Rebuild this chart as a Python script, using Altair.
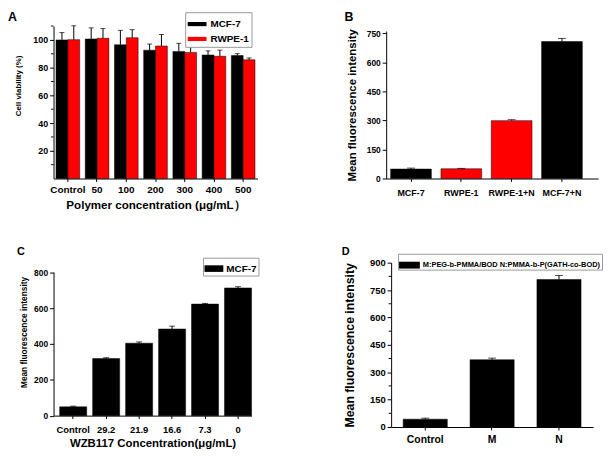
import altair as alt
import pandas as pd

FONT = "Liberation Sans"

# ---------------- data ----------------
a_cats = ["Control", "50", "100", "200", "300", "400", "500"]
a_series = ["MCF-7", "RWPE-1"]
a_mcf7 = [100.0, 100.7, 96.5, 92.6, 91.7, 89.1, 88.7]
a_mcf7_err = [5.3, 8.0, 10.4, 4.4, 5.8, 3.0, 1.4]
a_rwpe = [100.2, 101.2, 101.6, 95.6, 91.0, 88.2, 85.7]
a_rwpe_err = [10.0, 7.0, 5.8, 8.3, 7.6, 4.4, 1.3]
a_yticks = [20, 40, 60, 80, 100]
a_minor = [10, 30, 50, 70, 90, 110]

b_cats = ["MCF-7", "RWPE-1", "RWPE-1+N", "MCF-7+N"]
b_vals = [48.8, 50.4, 299.0, 707.6]
b_err = [5.0, 2.0, 5.0, 16.0]
b_colors = ["#000000", "#ff0000", "#ff0000", "#000000"]
b_yticks = [0, 150, 300, 450, 600, 750]

c_cats = ["Control", "29.2", "21.9", "16.6", "7.3", "0"]
c_vals = [49.0, 318.0, 404.0, 483.0, 622.0, 712.0]
c_err = [4.0, 5.0, 7.0, 16.0, 4.0, 7.0]
c_yticks = [0, 200, 400, 600, 800]
c_legend = ["MCF-7"]

d_cats = ["Control", "M", "N"]
d_vals = [43.0, 368.6, 808.0]
d_err = [5.5, 8.7, 22.0]
d_yticks = [0, 150, 300, 450, 600, 750, 900]
d_minor = [75, 225, 375, 525, 675, 825]
d_legend = ["M:PEG-b-PMMA/BOD N:PMMA-b-P(GATH-co-BOD)"]


def yaxis(values, title, lsize, tsize, tpad, title_y=None):
    kw = {}
    if title_y is not None:
        kw["titleY"] = title_y
    return alt.Axis(values=values, tickCount=50, title=title, grid=False, domainColor="black",
                    tickColor="black", tickSize=4, labelFont=FONT, labelFontWeight="bold",
                    labelFontSize=lsize, labelColor="black", labelPadding=2,
                    titleFont=FONT, titleFontWeight="bold", titleFontSize=tsize,
                    titleColor="black", titlePadding=tpad, labelFlush=False,
                    labelOverlap=False, **kw)


def xaxis(title, lsize, tsize, lpad, tpad):
    return alt.Axis(title=title, labelAngle=0, grid=False, domainColor="black",
                    tickColor="black", tickSize=3, labelFont=FONT, labelFontWeight="bold",
                    labelFontSize=lsize, labelColor="black", labelPadding=lpad,
                    titleFont=FONT, titleFontWeight="bold", titleFontSize=tsize,
                    titleColor="black", titlePadding=tpad, labelOverlap=False)


def letter(t, x, y, size):
    return alt.Chart(pd.DataFrame({"t": [t]})).mark_text(
        font=FONT, fontWeight="bold", fontSize=size, align="left",
        baseline="alphabetic", color="black").encode(
        text="t:N", x=alt.value(x), y=alt.value(y))


def minor(vals, title):
    return alt.Chart(pd.DataFrame({"m": vals})).mark_rule(color="black", strokeWidth=1).encode(
        y=alt.Y("m:Q", title=title), x=alt.value(0), x2=alt.value(-2.5))


def legend(x, y, lsize, path, ssize, pad, loff):
    return alt.Legend(title=None, orient="none", legendX=x, legendY=y, direction="vertical",
                      symbolType=path, symbolSize=ssize, symbolStrokeWidth=0,
                      labelFont=FONT, labelFontWeight="bold", labelFontSize=lsize,
                      labelColor="black", strokeColor="#999999", fillColor="white",
                      padding=pad, rowPadding=0, labelOffset=loff, labelLimit=400)


# ---------------- panel A ----------------
a_df = pd.DataFrame({
    "cat": a_cats + a_cats,
    "series": [a_series[0]] * len(a_cats) + [a_series[1]] * len(a_cats),
    "value": a_mcf7 + a_rwpe,
    "err": a_mcf7_err + a_rwpe_err,
})
a_ytitle = "Cell viability (%)"
a_base = alt.Chart(a_df).transform_calculate(top="datum.value + datum.err").encode(
    x=alt.X("cat:N", sort=a_cats, scale=alt.Scale(paddingInner=0.19, paddingOuter=0.085),
            axis=xaxis("Polymer concentration (μg/mL）", 10, 11.7, 3, 5)),
    xOffset=alt.XOffset("series:N", sort=a_series),
)
a_bars = a_base.mark_bar(stroke="black", strokeWidth=0.5).encode(
    y=alt.Y("value:Q", scale=alt.Scale(domain=[0, 110], nice=False),
            axis=yaxis(a_yticks, a_ytitle, 9, 8, 10, 60)),
    color=alt.Color("series:N", scale=alt.Scale(domain=a_series, range=["#000000", "#ff0000"]),
                    legend=legend(133, -14, 10, "M-1,-0.22H1V0.22H-1Z", 361, 2.5, 4)),
)
a_rule = a_base.mark_rule(color="black").encode(y=alt.Y("value:Q", title=a_ytitle), y2="top:Q")
a_cap = a_base.mark_tick(color="black", thickness=1, size=5).encode(y=alt.Y("top:Q", title=a_ytitle))
panel_a = alt.layer(a_bars, a_rule, a_cap, minor(a_minor, a_ytitle),
                    letter("A", -46, -5.5, 12.5)).properties(width=206, height=154)

# ---------------- panel B ----------------
b_df = pd.DataFrame({"cat": b_cats, "value": b_vals, "err": b_err})
b_ytitle = "Mean fluorescence intensity"
b_base = alt.Chart(b_df).transform_calculate(top="datum.value + datum.err").encode(
    x=alt.X("cat:N", sort=b_cats,
            scale=alt.Scale(paddingInner=0.19, paddingOuter=0.2, align=0.22),
            axis=xaxis(None, 9, 12, 7, 4)),
)
b_bars = b_base.mark_bar(stroke="black", strokeWidth=0.5).encode(
    y=alt.Y("value:Q", scale=alt.Scale(domain=[0, 762], nice=False, range=[154, 5]),
            axis=yaxis(b_yticks, b_ytitle, 8.5, 11.5, 9)),
    color=alt.Color("cat:N", scale=alt.Scale(domain=b_cats, range=b_colors), legend=None),
)
b_rule = b_base.mark_rule(color="black").encode(y=alt.Y("value:Q", title=b_ytitle), y2="top:Q")
b_cap = b_base.mark_tick(color="black", thickness=1, size=8).encode(y=alt.Y("top:Q", title=b_ytitle))
panel_b = alt.layer(b_bars, b_rule, b_cap, letter("B", -42, -5.5, 12.5)).properties(width=214, height=154)

# ---------------- panel C ----------------
c_df = pd.DataFrame({"cat": c_cats, "value": c_vals, "err": c_err,
                     "label": c_legend * len(c_cats)})
c_ytitle = "Mean fluorescence intensity"
c_base = alt.Chart(c_df).transform_calculate(top="datum.value + datum.err").encode(
    x=alt.X("cat:N", sort=c_cats,
            scale=alt.Scale(paddingInner=0.18, paddingOuter=0.093, align=1),
            axis=xaxis("WZB117 Concentration(μg/mL)", 9.5, 11.5, 6, 4)),
)
c_bars = c_base.mark_bar(stroke="black", strokeWidth=0.5).encode(
    y=alt.Y("value:Q", scale=alt.Scale(domain=[0, 800], nice=False, range=[154.5, 9.6]),
            axis=yaxis(c_yticks, c_ytitle, 8.5, 8.4, 5, 70)),
    color=alt.Color("label:N", scale=alt.Scale(domain=c_legend, range=["#000000"]),
                    legend=legend(151, -5, 10, "M-1,-0.35H1V0.35H-1Z", 361, 1.5, 3)),
)
c_rule = c_base.mark_rule(color="black").encode(y=alt.Y("value:Q", title=c_ytitle), y2="top:Q")
c_cap = c_base.mark_tick(color="black", thickness=1, size=6).encode(y=alt.Y("top:Q", title=c_ytitle))
panel_c = alt.layer(c_bars, c_rule, c_cap, letter("C", -37, -8, 11)).properties(width=200, height=154.5)

# ---------------- panel D ----------------
d_df = pd.DataFrame({"cat": d_cats, "value": d_vals, "err": d_err,
                     "label": d_legend * len(d_cats)})
d_ytitle = "Mean fluorescence intensity"
d_base = alt.Chart(d_df).transform_calculate(top="datum.value + datum.err").encode(
    x=alt.X("cat:N", sort=d_cats,
            scale=alt.Scale(paddingInner=0.34, paddingOuter=0.18),
            axis=xaxis(None, 10.5, 12, 5, 4)),
)
d_bars = d_base.mark_bar(stroke="black", strokeWidth=0.5).encode(
    y=alt.Y("value:Q", scale=alt.Scale(domain=[0, 900], nice=False),
            axis=yaxis(d_yticks, d_ytitle, 9.5, 12.4, 13)),
    color=alt.Color("label:N", scale=alt.Scale(domain=d_legend, range=["#000000"]),
                    legend=legend(7, -9, 7.5, "M-1,-0.33H1V0.33H-1Z", 441, 1, 3)),
)
d_rule = d_base.mark_rule(color="black").encode(y=alt.Y("value:Q", title=d_ytitle), y2="top:Q")
d_cap = d_base.mark_tick(color="black", thickness=1, size=8).encode(y=alt.Y("top:Q", title=d_ytitle))
panel_d = alt.layer(d_bars, d_rule, d_cap, minor(d_minor, d_ytitle),
                    letter("D", -50, -8, 11)).properties(width=204, height=166)

top = alt.hconcat(panel_a, panel_b, spacing=88).resolve_scale(color="independent")
bottom = alt.hconcat(panel_c, panel_d, spacing=83).resolve_scale(color="independent")
chart = alt.vconcat(top, bottom, spacing=35).resolve_scale(color="independent").properties(
    padding={"left": 0, "top": 0, "right": 0, "bottom": 0},
    background="white",
).configure_view(stroke=None)

chart.save("out.html", embed_options={"renderer": "svg", "actions": False})
